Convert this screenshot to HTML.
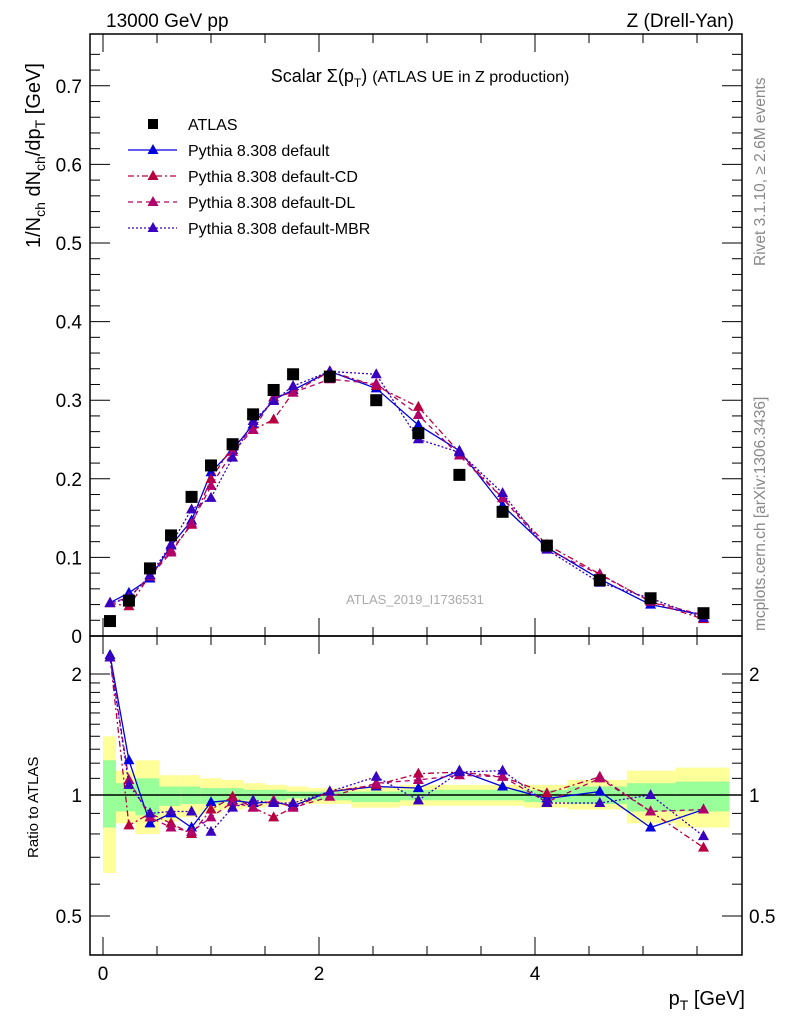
<!DOCTYPE html>
<html><head><meta charset="utf-8"><style>
body{margin:0;background:#fff;}
svg{display:block;font-family:"Liberation Sans",sans-serif;}
</style></head><body>
<svg id="chart" width="786" height="1024" viewBox="0 0 786 1024">
<g id="bands"></g>
<g id="grid"></g>
<g id="series"></g>
<text x="106" y="27" font-size="19">13000 GeV pp</text>
<text x="734" y="27" font-size="19" text-anchor="end">Z (Drell-Yan)</text>
<text x="420" y="82" font-size="18" text-anchor="middle">Scalar Σ(p<tspan font-size="12" dy="5">T</tspan><tspan dy="-5">)</tspan> <tspan font-size="16">(ATLAS UE in Z production)</tspan></text>
<text x="415" y="604" font-size="13" fill="#aaa" text-anchor="middle">ATLAS_2019_I1736531</text>
<text transform="translate(765,266) rotate(-90)" font-size="15.5" fill="#888">Rivet 3.1.10, ≥ 2.6M events</text>
<text transform="translate(765,631) rotate(-90)" font-size="15.5" fill="#888">mcplots.cern.ch [arXiv:1306.3436]</text>
<text transform="translate(40,248) rotate(-90)" font-size="20">1/N<tspan font-size="14" dy="5">ch</tspan><tspan dy="-5"> dN</tspan><tspan font-size="14" dy="5">ch</tspan><tspan dy="-5">/dp</tspan><tspan font-size="14" dy="5">T</tspan><tspan dy="-5"> [GeV]</tspan></text>
<text transform="translate(38,858) rotate(-90)" font-size="15">Ratio to ATLAS</text>
<text x="745" y="1005" font-size="20" text-anchor="end">p<tspan font-size="14" dy="5">T</tspan><tspan dy="-5"> [GeV]</tspan></text>
<g id="legend"></g>
</svg>
<script>
const xs=[0.065,0.24,0.435,0.63,0.82,1.0,1.2,1.39,1.58,1.76,2.10,2.53,2.92,3.30,3.70,4.11,4.60,5.07,5.56];
const atlas=[0.019,0.045,0.086,0.128,0.177,0.217,0.244,0.282,0.313,0.333,0.330,0.300,0.258,0.205,0.158,0.115,0.071,0.048,0.029];
const rDefault=[2.23,1.22,0.85,0.90,0.83,0.96,0.97,0.955,0.96,0.94,1.02,1.05,1.04,1.15,1.05,0.98,1.02,0.83,0.92];
const rCD=[2.2,0.84,0.90,0.85,0.80,0.92,0.99,0.93,0.88,0.93,1.02,1.06,1.13,1.14,1.11,1.01,1.11,0.91,0.74];
const rDL=[2.2,1.09,0.88,0.83,0.81,0.88,0.96,0.93,0.97,0.93,0.99,1.07,1.09,1.12,1.11,0.96,1.10,0.91,0.92];
const rMBR=[2.2,1.06,0.90,0.91,0.91,0.81,0.93,0.97,0.955,0.955,1.02,1.11,0.97,1.14,1.15,0.955,0.955,1.0,0.79];
const binEdges=[0,0.12,0.3,0.52,0.72,0.9,1.1,1.3,1.5,1.7,1.9,2.3,2.75,3.1,3.5,3.9,4.3,4.85,5.3,5.8];
const yelHi=[1.40,1.15,1.22,1.12,1.12,1.10,1.09,1.07,1.06,1.05,1.04,1.05,1.06,1.06,1.06,1.06,1.09,1.15,1.17];
const yelLo=[0.64,0.85,0.80,0.86,0.88,0.90,0.92,0.93,0.94,0.95,0.95,0.93,0.94,0.94,0.94,0.93,0.92,0.85,0.83];
const grnHi=[1.22,1.07,1.10,1.05,1.05,1.04,1.04,1.03,1.03,1.02,1.02,1.02,1.03,1.03,1.03,1.03,1.05,1.07,1.08];
const grnLo=[0.83,0.91,0.89,0.94,0.95,0.95,0.96,0.97,0.97,0.98,0.97,0.96,0.97,0.97,0.97,0.96,0.95,0.91,0.91];
const yTicks=[0,0.1,0.2,0.3,0.4,0.5,0.6,0.7];
const yTickLabels=["0","0.1","0.2","0.3","0.4","0.5","0.6","0.7"];
const xTicks=[0,2,4];
const rTicks=[0.5,1,2];
const rTickLabels=["0.5","1","2"];

const NS="http://www.w3.org/2000/svg";
const L=90,R=742,T=34,M=636,B=955;
const X=v=>103+108*v;
const Y=v=>636-786*v;
const RY=r=>795-121*Math.log2(r);
function mk(p,tag,a){const e=document.createElementNS(NS,tag);for(const k in a)e.setAttribute(k,a[k]);p.appendChild(e);return e;}
const bands=document.getElementById('bands'),grid=document.getElementById('grid'),ser=document.getElementById('series'),leg=document.getElementById('legend');

for(let i=0;i<yelHi.length;i++){
  const x0=X(binEdges[i]),x1=Math.min(R,X(binEdges[i+1]));
  let e=mk(bands,'rect',{x:x0,y:RY(yelHi[i]),width:x1-x0,height:RY(yelLo[i])-RY(yelHi[i]),fill:'#ffff99'});
  
  
  e=mk(bands,'rect',{x:x0,y:RY(grnHi[i]),width:x1-x0,height:RY(grnLo[i])-RY(grnHi[i]),fill:'#99ff99'});
  
  
}
mk(grid,'rect',{x:L,y:T,width:R-L,height:M-T,fill:'none',stroke:'#000','stroke-width':1.5});
mk(grid,'rect',{x:L,y:M,width:R-L,height:B-M,fill:'none',stroke:'#000','stroke-width':1.5});
mk(grid,'line',{x1:L,x2:R,y1:RY(1),y2:RY(1),stroke:'#000','stroke-width':1.5});
for(let v=0;v<=0.76;v+=0.02){const y=Y(v);if(y<T)break;const maj=Math.abs(v*10-Math.round(v*10))<1e-6;const len=maj?20:10;
 mk(grid,'line',{x1:L,x2:L+len,y1:y,y2:y,stroke:'#000'});mk(grid,'line',{x1:R,x2:R-len,y1:y,y2:y,stroke:'#000'});}
yTicks.forEach((v,i)=>{const t=mk(grid,'text',{x:82,y:Y(v)+7,'font-size':19,'text-anchor':'end'});t.textContent=yTickLabels[i];
 
 });
for(let v=0;v<=6;v+=0.5){const x=X(v);if(x>R)break;const maj=v%2===0;const len=maj?18:9;
 [[M,-1],[B,-1],[T,1],[M,1]].forEach(([y0,d])=>mk(grid,'line',{x1:x,x2:x,y1:y0,y2:y0+d*len,stroke:'#000'}));}
xTicks.forEach(v=>{const t=mk(grid,'text',{x:X(v),y:980,'font-size':19,'text-anchor':'middle'});t.textContent=String(v);
 
 });
[0.4,0.5,0.6,0.7,0.8,0.9,1,1.1,1.2,1.3,1.4,1.5,1.6,1.7,1.8,1.9,2].forEach(r=>{const y=RY(r);if(y>B||y<M)return;const maj=rTicks.includes(r);const len=maj?20:10;
 mk(grid,'line',{x1:L,x2:L+len,y1:y,y2:y,stroke:'#000'});mk(grid,'line',{x1:R,x2:R-len,y1:y,y2:y,stroke:'#000'});});
rTicks.forEach((r,i)=>{[[82,'end'],[749,'start']].forEach(([x,a])=>{const t=mk(grid,'text',{x:x,y:RY(r)+7,'font-size':19,'text-anchor':a});t.textContent=rTickLabels[i];
 
 });});

const cp=mk(document.getElementById('chart'),'clipPath',{id:'rclip'});mk(cp,'rect',{x:L,y:M,width:R-L,height:B-M});
const defs=[
 {r:rDefault,c:'#0000e0',d:'',n:'pythia-default'},
 {r:rCD,c:'#b8003f',d:'6,3,2,3',n:'pythia-default-cd'},
 {r:rDL,c:'#b0006a',d:'5,4',n:'pythia-default-dl'},
 {r:rMBR,c:'#3a00c0',d:'2,2',n:'pythia-default-mbr'}];
function tri(g,x,y,c){return mk(g,'polygon',{points:`${x},${y-6} ${x-5.5},${y+4} ${x+5.5},${y+4}`,fill:c});}
defs.forEach(s=>{
 const g=mk(ser,'g',{});
 
 
 const mc=s.r.map((r,i)=>r*atlas[i]);
 mk(g,'polyline',{points:xs.map((x,i)=>X(x)+','+Y(mc[i])).join(' '),fill:'none',stroke:s.c,'stroke-width':1.3,'stroke-dasharray':s.d});
 mk(g,'polyline',{points:xs.map((x,i)=>X(x)+','+RY(s.r[i])).join(' '),fill:'none',stroke:s.c,'stroke-width':1.3,'stroke-dasharray':s.d,'clip-path':'url(#rclip)'});
 xs.forEach((x,i)=>{let m=tri(g,X(x),Y(mc[i]),s.c);
  
  
  const ry=RY(s.r[i]);if(ry>M+4){m=tri(g,X(x),ry,s.c);
  
  }});
});
xs.forEach((x,i)=>{const s=mk(ser,'rect',{x:X(x)-6,y:Y(atlas[i])-6,width:12,height:12,fill:'#000'});
 
 });

const lg=[['ATLAS','#000','',true],['Pythia 8.308 default','#0000e0',''],['Pythia 8.308 default-CD','#b8003f','6,3,2,3'],['Pythia 8.308 default-DL','#b0006a','5,4'],['Pythia 8.308 default-MBR','#3a00c0','2,2']];
lg.forEach((e,i)=>{const y=124+26*i;const g=mk(leg,'g',{});
 
 
 if(e[3])mk(g,'rect',{x:148,y:y-5,width:10,height:10,fill:'#000'});
 else{mk(g,'line',{x1:128,x2:177,y1:y,y2:y,stroke:e[1],'stroke-width':1.3,'stroke-dasharray':e[2]});tri(g,153,y,e[1]);}
 const t=mk(g,'text',{x:188,y:y+6,'font-size':16});t.textContent=e[0];});
</script>
</body></html>
